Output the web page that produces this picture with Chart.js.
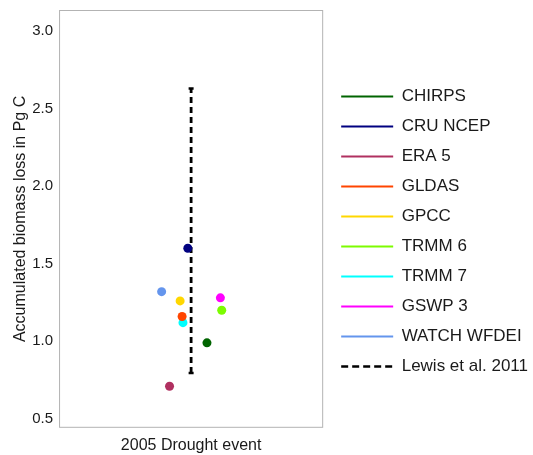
<!DOCTYPE html>
<html>
<head>
<meta charset="utf-8">
<script src="https://cdn.jsdelivr.net/npm/chart.js@4"></script>
<style>
  html, body { margin: 0; padding: 0; background: #fff; }
  #wrap { width: 533px; height: 455px; }
</style>
</head>
<body>
<div id="wrap"><canvas id="chart"></canvas></div>
<script>
// data
const products = ['CHIRPS', 'CRU NCEP', 'ERA 5', 'GLDAS', 'GPCC', 'TRMM 6', 'TRMM 7', 'GSWP 3', 'WATCH WFDEI'];
const biomassLoss = [0.99, 1.60, 0.71, 1.16, 1.26, 1.20, 1.12, 1.28, 1.32];
const jitterX = [1.072, 0.985, 0.902, 0.959, 0.950, 1.139, 0.963, 1.133, 0.866];
const productColors = ['#006400', '#000080', '#b03060', '#ff4500', '#ffd700', '#7cfc00', '#00ffff', '#ff00ff', '#6495ed'];
const lewisLabel = 'Lewis et al. 2011';
const lewisRange = [0.795, 2.63];
const eventLabel = '2005 Drought event';
const yTicks = [0.5, 1.0, 1.5, 2.0, 2.5, 3.0];

Chart.defaults.font.family = '"Liberation Sans", Arial, sans-serif';

const datasets = products.map((name, i) => ({
    type: 'scatter',
    label: name,
    data: [{ x: jitterX[i], y: biomassLoss[i] }],
    backgroundColor: productColors[i],
    borderColor: productColors[i],
    pointRadius: 4.5,
    pointHoverRadius: 4.5,
    borderWidth: 0
}));

datasets.push({
    type: 'line',
    label: lewisLabel,
    data: [{ x: 1, y: lewisRange[0] }, { x: 1, y: lewisRange[1] }],
    borderColor: '#000',
    backgroundColor: '#000',
    borderWidth: 2.8,
    borderDash: [6, 4],
    pointStyle: 'line',
    pointRadius: 2.5,
    pointBorderWidth: 2.5,
    pointBorderColor: '#000',
    fill: false
});

const panelBorder = {
    id: 'panelBorder',
    beforeDatasetsDraw(chart) {
        const a = chart.chartArea;
        const c = chart.ctx;
        c.save();
        c.strokeStyle = '#b3b3b3';
        c.lineWidth = 1;
        c.strokeRect(a.left + 0.5, a.top + 0.5, a.right - a.left - 1, a.bottom - a.top - 1);
        c.restore();
    }
};

// move the legend block a little, like in the original
const legendNudge = {
    id: 'legendNudge',
    afterLayout(chart) {
        const l = chart.legend;
        l.left += 5; l.right += 5;
        l.top -= 5; l.bottom -= 5;
    }
};

new Chart(document.getElementById('chart'), {
    type: 'scatter',
    data: { datasets: datasets },
    options: {
        responsive: true,
        maintainAspectRatio: false,
        animation: false,
        layout: { padding: { top: 10, right: 0, bottom: -8, left: 11 } },
        plugins: {
            tooltip: { enabled: false },
            legend: {
                position: 'right',
                maxWidth: 215,
                labels: {
                    usePointStyle: true,
                    pointStyleWidth: 52,
                    padding: 13,
                    color: '#1a1a1a',
                    font: { size: 17 },
                    generateLabels: chart => chart.data.datasets.map((ds, i) => ({
                        text: ds.label,
                        pointStyle: 'line',
                        strokeStyle: ds.borderColor,
                        fillStyle: ds.borderColor,
                        lineWidth: ds.type === 'line' ? 2.6 : 2,
                        lineDash: ds.type === 'line' ? [7, 4] : [],
                        fontColor: '#1a1a1a',
                        datasetIndex: i
                    }))
                }
            }
        },
        scales: {
            x: {
                type: 'linear',
                min: 0.4,
                max: 1.6,
                grid: { display: false, drawTicks: false },
                border: { display: false },
                afterBuildTicks: axis => { axis.ticks = [{ value: 1 }]; },
                ticks: {
                    color: '#1a1a1a',
                    font: { size: 16 },
                    padding: 8,
                    callback: () => eventLabel
                }
            },
            y: {
                min: 0.442,
                max: 3.136,
                grid: { display: false, drawTicks: true, tickLength: 6 },
                border: { display: false },
                afterBuildTicks: axis => { axis.ticks = yTicks.map(v => ({ value: v })); },
                ticks: {
                    color: '#1a1a1a',
                    font: { size: 15 },
                    padding: 0,
                    callback: v => Number(v).toFixed(1)
                },
                title: {
                    display: true,
                    text: 'Accumulated biomass loss in Pg C',
                    color: '#1a1a1a',
                    font: { size: 16 },
                    padding: { top: 0, bottom: 2 }
                }
            }
        }
    },
    plugins: [panelBorder, legendNudge]
});
</script>
</body>
</html>
